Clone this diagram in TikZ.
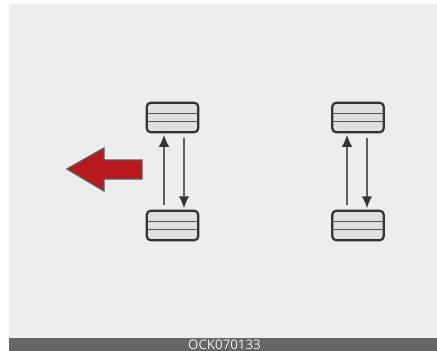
\documentclass[tikz,border=0pt]{standalone}
\usepackage{fontspec}
\setmainfont{Open Sans}
\usetikzlibrary{arrows.meta}
\definecolor{panelgray}{HTML}{EDEDED}
\definecolor{bargray}{HTML}{666666}
\definecolor{wheelfill}{HTML}{DEDFE1}
\definecolor{wheelline}{HTML}{333333}
\definecolor{arrowgray}{HTML}{5F5F5F}
\definecolor{redfill}{HTML}{B8181E}
\tikzset{
  wheel/.style={draw=wheelline,fill=wheelfill,line width=2.2pt,rounded corners=4pt,minimum width=51.5pt,minimum height=29.5pt,inner sep=0pt,outer sep=0pt},
  tread/.style={draw=wheelline!85!white,line width=1.6pt},
  flow/.style={draw=arrowgray,line width=1.5pt,-{Latex[length=12pt,width=10.5pt,color=wheelline]},shorten >=2.5pt,shorten <=6pt},
  bigarrow/.style={draw=wheelline!80!white,fill=redfill,line width=1.3pt,line join=miter},
  bartext/.style={text=white!92!black,font=\fontsize{13.3}{13.3}\selectfont,inner sep=0pt}
}
\begin{document}
\begin{tikzpicture}[x=1pt,y=-1pt]
\useasboundingbox (0,0) rectangle (437,351);
\fill[white] (0,0) rectangle (437,351);
\fill[panelgray] (9,4) rectangle (437,338);
\fill[bargray] (9,338) rectangle (437,351);
\node[bartext] (code) at (224.5,344.5) {OCK070133};
\node[wheel] (lt) at (172.5,117.5) {};
\node[wheel] (lb) at (172.5,225.5) {};
\node[wheel] (rt) at (358,117.5) {};
\node[wheel] (rb) at (358,225.5) {};
\foreach \w in {lt,lb,rt,rb}{
  \draw[tread] ([yshift=-4pt]\w.west) -- ([yshift=-4pt]\w.east);
  \draw[tread] ([yshift=4pt]\w.west) -- ([yshift=4pt]\w.east);
}
\draw[flow] ([xshift=-8.5pt]lb.north) -- ([xshift=-8.5pt]lt.south);
\draw[flow] ([xshift=11.5pt]lt.south) -- ([xshift=11.5pt]lb.north);
\draw[flow] ([xshift=-11pt]rb.north) -- ([xshift=-11pt]rt.south);
\draw[flow] ([xshift=9pt]rt.south) -- ([xshift=9pt]rb.north);
\draw[bigarrow] (67,169) -- (104,148) -- (104,160) -- (142,160) -- (142,179) -- (104,179) -- (104,191) -- cycle;
\end{tikzpicture}
\end{document}
